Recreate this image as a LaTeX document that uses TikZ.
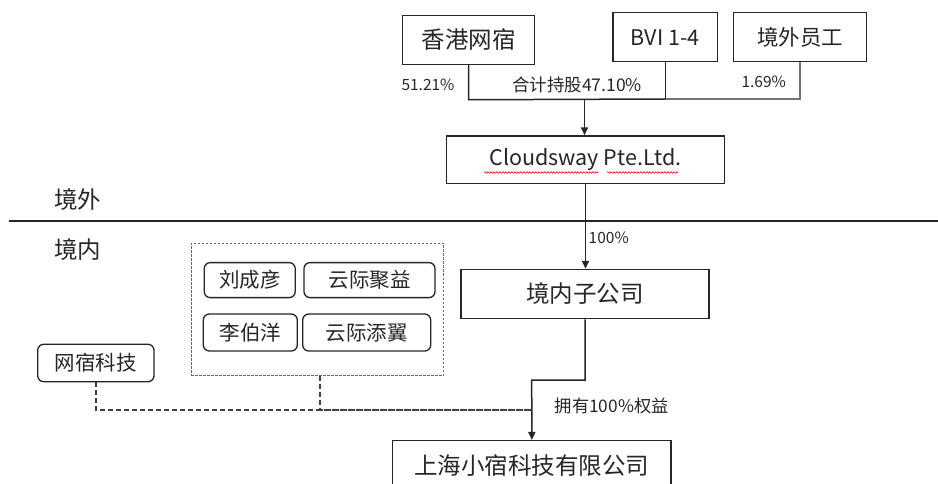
\documentclass[tikz,border=0pt]{standalone}
\usepackage{fontspec}
\setmainfont{Noto Sans CJK SC}
\usetikzlibrary{arrows.meta,decorations.pathmorphing}
\definecolor{ink}{HTML}{262626}
\definecolor{lineclr}{HTML}{262626}
\tikzset{
  box/.style={draw=lineclr, line width=1.5pt, inner sep=0pt, text=ink},
  rbox/.style={draw=lineclr, line width=1.3pt, rounded corners=6pt, inner sep=0pt, text=ink},
  grpbox/.style={draw=black!60, line width=0.8pt, dash pattern=on 2.5pt off 1.5pt, inner sep=0pt},
  conn/.style={draw=lineclr, line width=1.5pt},
  lconn/.style={draw=black!55, line width=1.3pt},
  arr/.style={conn, -{Triangle[length=8pt,width=7pt]}},
  dconn/.style={draw=black!75, line width=1.6pt, dash pattern=on 5pt off 3pt},
  lbl/.style={text=ink, inner sep=0pt},
  fbig/.style={font=\fontsize{23.5}{26}\selectfont},
  fmid/.style={font=\fontsize{20.5}{23}\selectfont},
  fsmall/.style={font=\fontsize{15.5}{18}\selectfont},
}
\begin{document}
\begin{tikzpicture}[x=1pt,y=-1pt]
\useasboundingbox (0,0) rectangle (938,484);
\clip (0,0) rectangle (938,484);
\fill[white] (0,0) rectangle (938,484);

% top row
\node[box, fbig, minimum width=131.6pt, minimum height=48.6pt] (hk) at (468.5,40) {香港网宿};
\node[box, font=\fontsize{21.5}{24}\selectfont, minimum width=104.7pt, minimum height=49pt] (bvi) at (665.3,37.2) {BVI 1-4};
\node[box, font=\fontsize{21.5}{24}\selectfont, minimum width=133.4pt, minimum height=49pt] (emp) at (800,37.2) {境外员工};

\node[lbl, fsmall] (p1) at (428,85) {51.21\%};
\node[lbl, font=\fontsize{17.5}{20}\selectfont] (p2) at (577,85) {合计持股47.10\%};
\node[lbl, fsmall] (p3) at (763.7,82) {1.69\%};

% Cloudsway
\node[box, font=\fontsize{21.5}{25}\selectfont, minimum width=277.6pt, minimum height=47.3pt] (cloud) at (585.5,159.7) {Cloudsway Pte.Ltd.};
\draw[red!85!black, line width=0.6pt, decorate, decoration={snake, amplitude=0.8pt, segment length=3pt}] (484,172.5) -- (598,172.5);
\draw[red!85!black, line width=0.6pt, decorate, decoration={snake, amplitude=0.8pt, segment length=3pt}] (607,172.5) -- (678,172.5);

\coordinate (j) at (584.5,99);
\draw[conn] (hk.south) -- ++(0,34.7) -- (bvi.south |- j);
\draw[lconn] (bvi.south |- j) -| (emp.south);
\draw[conn] (bvi.south) -- (bvi.south |- j);
\draw[arr] (j) -- (j |- cloud.north);

% separator
\draw[line width=1.5pt, draw=lineclr] (9,221) -- (938,221);
\node[lbl, fbig] (out) at (77.5,200) {境外};
\node[lbl, fbig] (in) at (77.5,250) {境内};

% domestic subsidiary
\node[box, fbig, minimum width=248pt, minimum height=49pt] (sub) at (585,294) {境内子公司};
\draw[arr] (cloud.south) -- (cloud.south |- sub.north);
\node[lbl, fsmall, anchor=west] (p4) at (588.5,238) {100\%};

% group box
\node[grpbox, minimum width=252.3pt, minimum height=132.4pt] (grp) at (317.15,309.5) {};
\node[rbox, fmid, minimum width=91pt, minimum height=35pt] (liu) at (249.75,280.1) {刘成彦};
\node[rbox, fmid, minimum width=131pt, minimum height=35pt] (jy) at (369.5,280.1) {云际聚益};
\node[rbox, fmid, minimum width=94pt, minimum height=37pt] (li) at (250.3,332.5) {李伯洋};
\node[rbox, fmid, minimum width=128pt, minimum height=37pt] (ty) at (366.7,332.5) {云际添翼};

% wangsu tech
\node[rbox, fmid, minimum width=116.3pt, minimum height=37.4pt] (ws) at (95.85,363) {网宿科技};

% Shanghai company
\node[box, fbig, minimum width=278.3pt, minimum height=50pt] (sh) at (531.85,465.7) {上海小宿科技有限公司};

\coordinate (k) at (531.7,380);
\coordinate (m) at (531.7,410);
\draw[dconn] (ws.south) |- (m);
\draw[dconn] ([xshift=3pt]grp.south) |- (m);
\draw[arr] (sub.south) |- (k) -- (sh.north);
\node[lbl, font=\fontsize{17.3}{20}\selectfont] (p5) at (611.7,406) {拥有100\%权益};
\end{tikzpicture}
\end{document}
